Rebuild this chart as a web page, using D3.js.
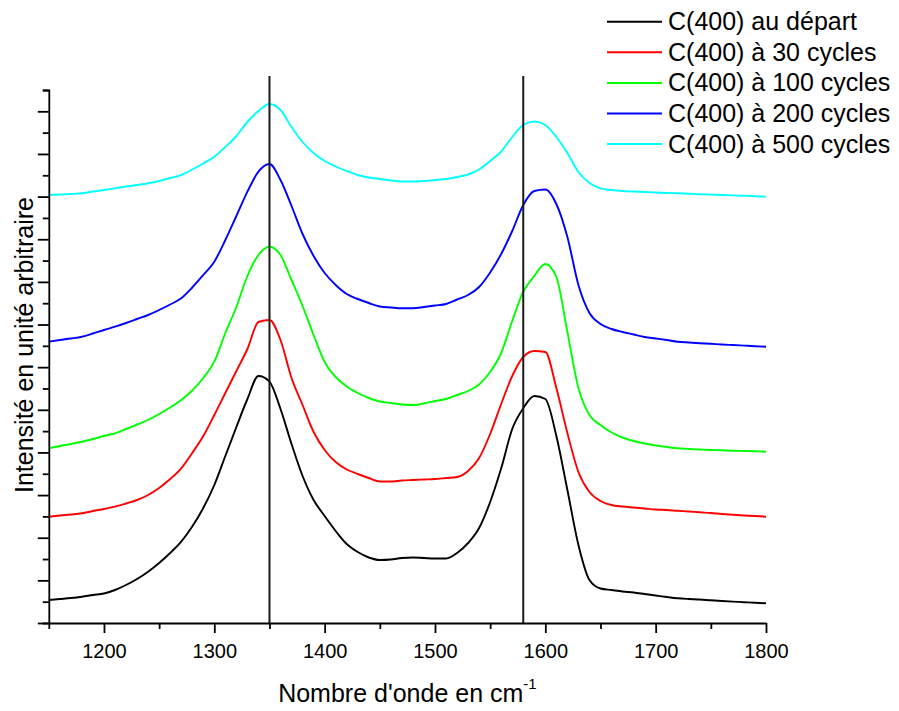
<!DOCTYPE html>
<html>
<head>
<meta charset="utf-8">
<script src="https://cdn.jsdelivr.net/npm/d3@7"></script>
<style>
    body { margin: 0; background: #fff; }
    text { font-family: "Liberation Sans", Arial, sans-serif; fill: #000; }
</style>
</head>
<body>
<svg id="chart"></svg>
<script>
    const width = 899;
    const height = 711;

    // wavenumbers (cm-1), shared by every spectrum
    const wavenumbers = d3.range(1150, 1801, 10);

    // intensities, arbitrary units (offset spectra)
    const depart = [23, 24, 25, 26.3, 28, 29.5, 33, 38, 44, 51.3, 60, 70, 81.3, 96.5, 115, 138, 167, 196, 224, 247,
        241.3, 214, 179, 147, 123, 107, 92, 79, 71, 65.5, 63, 63.5, 65, 65.5, 65, 64.5, 64.5, 70, 80, 95,
        121, 154.7, 194, 214.7, 227, 224, 187, 133, 78, 43, 34.5, 33, 31.5, 30.5, 29, 27.5, 26, 24.7, 24, 23.5,
        22.7, 22, 21.4, 20.8, 20.2, 19.7];
    const cycles30 = [106.3, 107.5, 108.5, 109.7, 112, 114, 116.3, 119.5, 123, 128, 135, 144, 154.7, 170, 187, 208, 230, 252, 274, 301,
        303, 283, 245, 218, 191, 173, 161, 153.5, 149, 145, 141.5, 141.5, 142.5, 143, 143.5, 144, 145, 146, 152, 165,
        189, 219, 247, 266, 272, 271, 235, 190, 151, 131, 122, 118, 116.5, 115.5, 114.5, 113.5, 113, 112.2, 111.5, 110.7,
        110, 109, 108.2, 107.5, 107, 106.3];
    const cycles100 = [174.7, 177, 179, 181.3, 184, 187, 189.7, 194, 198.5, 203, 209, 215.5, 223, 232.5, 245, 261.3, 290, 316, 347, 368,
        376.3, 368, 343, 317, 288, 261, 246, 236.5, 230, 225, 221.5, 220, 218.5, 218, 219.5, 222, 224, 228, 232, 238.5,
        251, 270, 302, 331.3, 347, 359, 346, 291, 235, 208, 198, 190.5, 185.5, 182, 179.5, 177.5, 176, 174.7, 174, 173.5,
        173, 172.7, 172.3, 172, 171.7, 171.3];
    const cycles200 = [281.3, 283, 284.5, 286.3, 289.5, 293, 296.3, 300, 304, 308, 313, 318.5, 324.7, 335.5, 348, 361.3, 383, 407, 431.3, 451.3,
        459, 443, 417, 389, 367, 350, 338, 329, 324, 320, 316.5, 315.5, 314.7, 314.7, 316, 317.5, 319, 323.5, 328, 336,
        350.5, 369, 392, 418, 432, 433.5, 419, 386, 338, 310, 299, 294, 291, 288.5, 286, 284.5, 283, 281.3, 280.5, 279.8,
        279.2, 278.5, 278, 277.4, 276.8, 276.3];
    const cycles500 = [428, 428.5, 429, 429.7, 431.5, 433, 434.7, 436.5, 438, 439.7, 442, 445, 448, 453.5, 459.5, 466.3, 476, 487, 501, 512,
        519, 513, 496, 481, 470, 462, 456.5, 452, 448, 445.5, 444, 442.5, 441.5, 441.5, 442, 443, 444, 446, 448.5, 453.5,
        462, 471.5, 486, 498, 501.5, 498, 486, 470, 451, 440, 434.7, 433, 432, 431.5, 431, 430.5, 430, 429.7, 429.2, 428.8,
        428.4, 428, 427.6, 427.2, 426.8, 426.3];

    const seriesNames = ["C(400) au départ", "C(400) à 30 cycles", "C(400) à 100 cycles", "C(400) à 200 cycles", "C(400) à 500 cycles"];
    const seriesColors = ["#000000", "#ff0000", "#00ff00", "#0000ff", "#00ffff"];
    const seriesValues = [depart, cycles30, cycles100, cycles200, cycles500];

    // reference bands (D and G)
    const bandLines = [1350, 1580];

    const xMajorTicks = [1200, 1300, 1400, 1500, 1600, 1700, 1800];
    const xMinorTicks = [1150, 1250, 1350, 1450, 1550, 1650, 1750];
    const yMax = 533;
    const yTickCount = 25;

    const svg = d3.select("#chart").attr("width", width).attr("height", height);

    const x = d3.scaleLinear().domain([1150, 1800]).range([48.8, 766]);
    const y = d3.scaleLinear().domain([0, yMax]).range([623, 90]);

    const yTicks = d3.range(yTickCount + 1).map(k => k * yMax / yTickCount);

    // spectra
    const line = d3.line()
        .curve(d3.curveMonotoneX)
        .x((d, i) => x(wavenumbers[i]))
        .y(d => y(d));

    svg.append("g").selectAll("path")
        .data(seriesValues)
        .enter().append("path")
        .attr("d", line)
        .attr("fill", "none")
        .attr("stroke", (d, i) => seriesColors[i])
        .attr("stroke-width", 1.9)
        .attr("stroke-linejoin", "round");

    // vertical reference lines
    svg.append("g").selectAll("line")
        .data(bandLines)
        .enter().append("line")
        .attr("x1", d => x(d)).attr("x2", d => x(d))
        .attr("y1", 76).attr("y2", y(0))
        .attr("stroke", "#1a1a1a")
        .attr("stroke-width", 2);

    // x axis
    const xAxis = svg.append("g")
        .attr("transform", `translate(0,${y(0)})`)
        .call(d3.axisBottom(x).tickValues(xMajorTicks).tickSize(10).tickSizeOuter(0).tickPadding(11).tickFormat(d3.format("d")));
    xAxis.selectAll("text").style("font-size", "20px").attr("font-family", null);

    svg.append("g")
        .attr("transform", `translate(0,${y(0)})`)
        .call(d3.axisBottom(x).tickValues(xMinorTicks).tickSize(6).tickSizeOuter(0).tickFormat(""))
        .select(".domain").remove();

    // y axis (no labels)
    svg.append("g")
        .attr("transform", `translate(${x(1150)},0)`)
        .call(d3.axisLeft(y).tickValues(yTicks).tickSizeOuter(0).tickFormat("")
            .tickSize(6))
        .selectAll(".tick line")
        .attr("x2", (d, i) => i % 2 === 0 ? -11 : -6);

    svg.selectAll(".domain, .tick line")
        .attr("stroke", "#000")
        .attr("stroke-width", 1.8);

    // axis titles
    const xTitle = svg.append("text")
        .attr("x", (x.range()[0] + x.range()[1]) / 2)
        .attr("y", 702)
        .attr("text-anchor", "middle")
        .style("font-size", "25px");
    xTitle.append("tspan").text("Nombre d'onde en cm");
    xTitle.append("tspan").attr("dy", -13).style("font-size", "15px").text("-1");

    svg.append("text")
        .attr("transform", "translate(33,345) rotate(-90)")
        .attr("text-anchor", "middle")
        .style("font-size", "25px")
        .text("Intensité en unité arbitraire");

    // legend
    const legend = svg.append("g").selectAll("g")
        .data(seriesNames)
        .enter().append("g")
        .attr("transform", (d, i) => `translate(607,${21.7 + i * 30.6})`);

    legend.append("line")
        .attr("x1", 0).attr("x2", 55)
        .attr("stroke", (d, i) => seriesColors[i])
        .attr("stroke-width", 2);

    legend.append("text")
        .attr("x", 61)
        .attr("y", 8.5)
        .style("font-size", "25px")
        .text(d => d);
</script>
</body>
</html>
